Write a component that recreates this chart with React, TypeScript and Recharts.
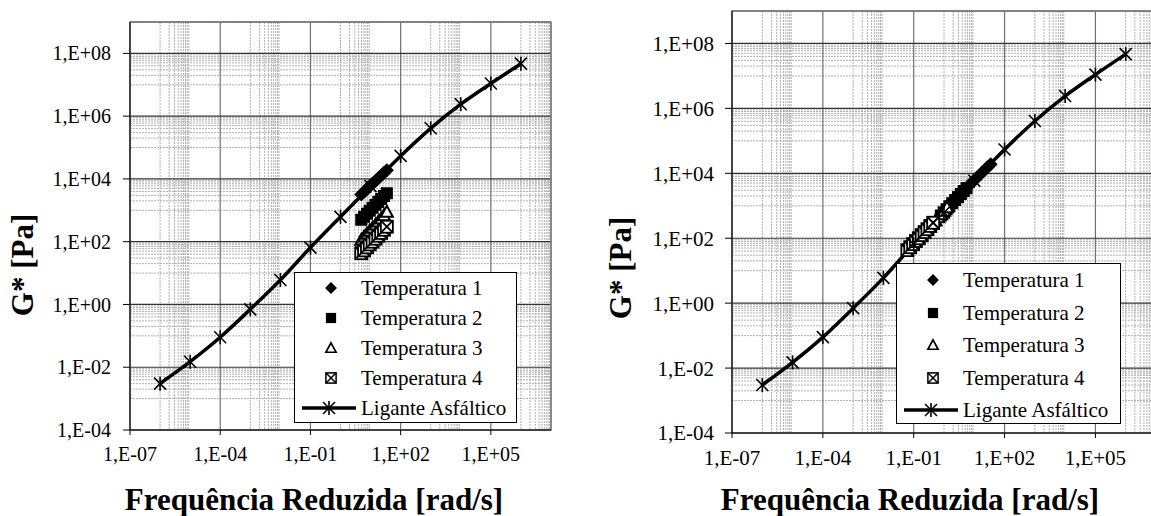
import React from "react";
import {
  CartesianGrid,
  ComposedChart,
  Legend,
  Line,
  ReferenceArea,
  Scatter,
  XAxis,
  YAxis,
} from "recharts";

// Ligante asfáltico (master curve)
const ligFreq = [1e-6, 1e-5, 1e-4, 1e-3, 1e-2, 1e-1, 1, 10, 100, 1e3, 1e4, 1e5, 1e6];
const ligModulus = [0.003, 0.015, 0.09, 0.7, 6, 65, 620, 5900, 54000, 410000, 2.4e6, 1.1e7, 4.7e7];

// ensaio: frequências (rad/s) e G* (Pa) por temperatura
const testFreq = [4.9, 6.1, 7.6, 9.4, 11.7, 14.6, 18.1, 22.5, 28.0, 34.8];
const gT1 = [3200, 3900, 4800, 5900, 7100, 8700, 10600, 12800, 15600, 19000];
const gT2 = [500, 620, 780, 970, 1200, 1500, 1850, 2300, 2850, 3500];
const gT3 = [115, 145, 180, 225, 280, 350, 440, 550, 700, 900];
const gT4 = [43, 53, 66, 82, 100, 125, 155, 190, 240, 300];
const shiftFactors = [1, 0.16, 0.036, 0.0126];

const legendLabels = [
  "Temperatura 1",
  "Temperatura 2",
  "Temperatura 3",
  "Temperatura 4",
  "Ligante Asfáltico",
];
const xTicks = [1e-7, 1e-4, 1e-1, 1e2, 1e5];
const yTicks = [1e-4, 1e-2, 1, 1e2, 1e4, 1e6, 1e8];
const minorSteps = [1, 2, 3, 4, 5, 6, 7, 8, 9];
const xDomain = [1e-7, 1e7];
const yDomain = [1e-4, 1e9];

const xMinor = xTicks.flatMap((t) => minorSteps.map((k) => k * t * 10));
const yMinor = yTicks
  .flatMap((t) => minorSteps.map((k) => k * t * 10))
  .filter((v) => v <= 1e9);

const FONT = "Liberation Serif, Tinos, DejaVu Serif, Times New Roman, serif";

const ligData = ligFreq.map((x, i) => ({ x, y: ligModulus[i] }));
const tempValues = [gT1, gT2, gT3, gT4];

const sciLabel = (v: number) => {
  const e = Math.round(Math.log10(v));
  return `1,E${e < 0 ? "-" : "+"}${String(Math.abs(e)).padStart(2, "0")}`;
};

// pick a usable mapping from the axis scale, or fall back to the plot box
const scaleFn = (axis: any, start: number, size: number, dom: number[], flip: boolean) => {
  const s = axis?.scale;
  if (typeof s === "function") return (v: number) => s(v);
  if (s && typeof s.map === "function") return (v: number) => s.map(v);
  const l0 = Math.log10(dom[0]);
  const l1 = Math.log10(dom[1]);
  return (v: number) => {
    const t = (Math.log10(v) - l0) / (l1 - l0);
    return flip ? start + size * (1 - t) : start + size * t;
  };
};

const Diamond = ({ cx, cy }: any) => (
  <polygon
    points={`${cx},${cy - 7} ${cx + 7},${cy} ${cx},${cy + 7} ${cx - 7},${cy}`}
    fill="#000"
  />
);
const Square = ({ cx, cy }: any) => (
  <rect x={cx - 6} y={cy - 6} width={12} height={12} fill="#000" />
);
const Triangle = ({ cx, cy }: any) => (
  <polygon
    points={`${cx},${cy - 6} ${cx + 6},${cy + 5} ${cx - 6},${cy + 5}`}
    fill="#fff"
    stroke="#000"
    strokeWidth={2}
  />
);
const BoxX = ({ cx, cy }: any) => (
  <g>
    <rect x={cx - 6} y={cy - 6} width={12} height={12} fill="#fff" stroke="#000" strokeWidth={1.8} />
    <line x1={cx - 5.5} y1={cy - 5.5} x2={cx + 5.5} y2={cy + 5.5} stroke="#000" strokeWidth={1.8} />
    <line x1={cx - 5.5} y1={cy + 5.5} x2={cx + 5.5} y2={cy - 5.5} stroke="#000" strokeWidth={1.8} />
  </g>
);
const Star = ({ cx, cy }: any) => (
  <g stroke="#000" strokeWidth={1.6}>
    <line x1={cx - 6} y1={cy - 6} x2={cx + 6} y2={cy + 6} />
    <line x1={cx - 6} y1={cy + 6} x2={cx + 6} y2={cy - 6} />
    <line x1={cx} y1={cy - 7} x2={cx} y2={cy + 7} />
  </g>
);
const markers = [Diamond, Square, Triangle, BoxX];

interface BoxSpec {
  left: number;
  top: number;
  width: number;
  height: number;
  first: number;
  step: number;
}

const LegendBox = ({ box }: { box: BoxSpec }) => (
  <div
    style={{
      position: "relative",
      width: box.width,
      height: box.height,
      border: "1px solid #000",
      background: "#fff",
      boxSizing: "border-box",
      fontFamily: FONT,
      fontSize: 21,
      color: "#000",
    }}
  >
    {legendLabels.map((label, i) => {
      const cy = box.first + i * box.step;
      const Mk = markers[i];
      return (
        <div key={label} style={{ position: "absolute", left: 0, top: cy - 14, height: 28, width: "100%" }}>
          <svg width={66} height={28} style={{ position: "absolute", left: 0, top: 0 }}>
            {Mk ? (
              <g transform="translate(36,14) scale(0.85) translate(-36,-14)">
                <Mk cx={36} cy={14} />
              </g>
            ) : (
              <g>
                <line x1={7} y1={14} x2={61} y2={14} stroke="#000" strokeWidth={3.5} />
                <Star cx={34} cy={14} />
              </g>
            )}
          </svg>
          <span style={{ position: "absolute", left: 66, top: 0, lineHeight: "28px", whiteSpace: "nowrap" }}>
            {label}
          </span>
        </div>
      );
    })}
  </div>
);

interface PanelProps {
  reduced: boolean;
  width: number;
  height: number;
  margin: { top: number; right: number; left: number; bottom: number };
  xAxisHeight: number;
  tickFont: number;
  yTickMargin: number;
  yTitle: { x: number; y: number };
  xTitle: { x: number; y: number };
  box: BoxSpec;
}

const Panel = ({ reduced, width, height, margin, xAxisHeight, tickFont, yTickMargin, yTitle, xTitle, box }: PanelProps) => {
  const series = tempValues.map((g, i) =>
    testFreq.map((f, j) => ({ x: reduced ? f * shiftFactors[i] : f, y: g[j] }))
  );
  const tick = { fontSize: tickFont, fill: "#000", fontFamily: FONT };
  const plotW = width - margin.left - margin.right - 70;
  const plotH = height - margin.top - xAxisHeight;
  return (
    <ComposedChart width={width} height={height} margin={margin} style={{ fontFamily: FONT }}>
      <CartesianGrid
        stroke="#b0b0b0"
        strokeDasharray="2 1"
        verticalCoordinatesGenerator={(p: any) => {
          const f = scaleFn(p?.xAxis, margin.left + 70, plotW, xDomain, false);
          return xMinor.map((v) => f(v));
        }}
        horizontalCoordinatesGenerator={(p: any) => {
          const f = scaleFn(p?.yAxis, margin.top, plotH, yDomain, true);
          return yMinor.map((v) => f(v));
        }}
      />
      <CartesianGrid stroke="#707070" strokeWidth={1.2} horizontal={false} />
      <CartesianGrid stroke="#333" strokeWidth={1.2} vertical={false} />
      <XAxis
        dataKey="x"
        type="number"
        scale="log"
        domain={xDomain}
        allowDataOverflow
        ticks={xTicks}
        interval={0}
        tickFormatter={sciLabel}
        tick={tick}
        tickSize={5}
        tickMargin={12}
        height={xAxisHeight}
        axisLine={{ stroke: "#000" }}
        tickLine={{ stroke: "#000" }}
        label={{
          content: () => (
            <text
              x={xTitle.x}
              y={xTitle.y}
              textAnchor="middle"
              fontFamily={FONT}
              fontWeight="bold"
              fontSize={31}
              fill="#000"
            >
              Frequência Reduzida [rad/s]
            </text>
          ),
        }}
      />
      <YAxis
        dataKey="y"
        type="number"
        scale="log"
        domain={yDomain}
        allowDataOverflow
        ticks={yTicks}
        interval={0}
        tickFormatter={sciLabel}
        tick={tick}
        tickSize={7}
        tickMargin={yTickMargin}
        width={70}
        axisLine={{ stroke: "#000" }}
        tickLine={{ stroke: "#000" }}
        label={{
          content: () => (
            <text
              transform={`translate(${yTitle.x},${yTitle.y}) rotate(-90)`}
              textAnchor="middle"
              fontFamily={FONT}
              fontWeight="bold"
              fontSize={31}
              fill="#000"
            >
              G* [Pa]
            </text>
          ),
        }}
      />
      <ReferenceArea x1={1e-7} x2={1e7} y1={1e-4} y2={1e9} fill="none" stroke="#808080" strokeWidth={1.5} />
      <Line
        data={ligData}
        dataKey="y"
        type="monotone"
        stroke="#000"
        strokeWidth={3.5}
        dot={(p: any) => <Star key={p.index} cx={p.cx} cy={p.cy} />}
        activeDot={false}
        isAnimationActive={false}
        name={legendLabels[4]}
      />
      {series.map((d, i) => {
        const Mk = markers[i];
        return (
          <Scatter
            key={legendLabels[i]}
            name={legendLabels[i]}
            data={d}
            shape={(p: any) => <Mk cx={p.cx} cy={p.cy} />}
            isAnimationActive={false}
          />
        );
      })}
      <Legend
        layout="horizontal"
        verticalAlign="middle"
        align="center"
        wrapperStyle={{ left: box.left, top: box.top, width: box.width, height: box.height }}
        content={() => <LegendBox box={box} />}
      />
    </ComposedChart>
  );
};

export default function App() {
  return (
    <div
      style={{
        position: "absolute",
        left: 0,
        top: 0,
        width: 1151,
        height: 516,
        overflow: "hidden",
        background: "#fff",
        fontFamily: FONT,
      }}
    >
      <div style={{ position: "absolute", left: 0, top: 0 }}>
        <Panel
          reduced={false}
          width={580}
          height={516}
          margin={{ top: 22, right: 29, left: 60, bottom: 0 }}
          xAxisHeight={86}
          tickFont={20}
          yTickMargin={12}
          yTitle={{ x: 33, y: 265 }}
          xTitle={{ x: 314, y: 510 }}
          box={{ left: 294, top: 272, width: 223, height: 151, first: 15, step: 30 }}
        />
      </div>
      <div style={{ position: "absolute", left: 580, top: 0 }}>
        <Panel
          reduced={true}
          width={580}
          height={516}
          margin={{ top: 11, right: 4, left: 82, bottom: 0 }}
          xAxisHeight={83}
          tickFont={21}
          yTickMargin={11}
          yTitle={{ x: 51, y: 268 }}
          xTitle={{ x: 330, y: 510 }}
          box={{ left: 316, top: 263, width: 225, height: 161, first: 16, step: 32.5 }}
        />
      </div>
    </div>
  );
}
